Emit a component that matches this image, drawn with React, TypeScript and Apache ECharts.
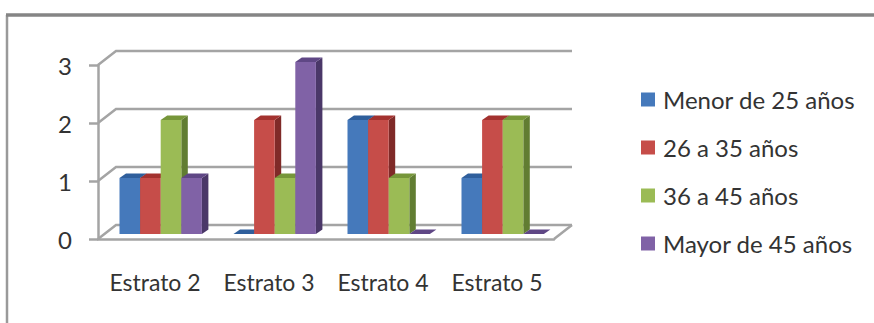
import { useEffect, useRef } from "react";
import * as echarts from "echarts";

const categories = ["Estrato 2", "Estrato 3", "Estrato 4", "Estrato 5"];
const yTicks = [0, 1, 2, 3];
const menor25 = [1, 0, 2, 1];
const de26a35 = [1, 2, 2, 2];
const de36a45 = [2, 1, 1, 2];
const mayor45 = [1, 3, 0, 0];

const seriesNames = ["Menor de 25 años", "26 a 35 años", "36 a 45 años", "Mayor de 45 años"];
const seriesValues = [menor25, de26a35, de36a45, mayor45];
// front, top and side face colours of each bar series
const palette = [
  ["#4579bb", "#2f5f9c", "#2b4f80"],
  ["#c64d49", "#a3322f", "#7f2a28"],
  ["#9bbb55", "#76963a", "#617d32"],
  ["#8062a6", "#5f4785", "#4a3768"],
];

const FONT = "Lato";
const GRID_COLOR = "#a4a4a4";
// Oblique depth of the plot floor and of each bar
const WALL_DX = 18;
const WALL_DY = -14;
const BAR_DX = 6.5;
const BAR_DY = -4.5;
const BAR_W = 20.6;
const FLOOR_SHIFT_X = 21.5;
const FLOOR_SHIFT_Y = -5;

function renderWalls(params: any, api: any) {
  const [x0, y] = api.coord([0, api.value(0)]);
  const cat = api.size([1, 0])[0];
  const left = x0 - cat / 2;
  const right = left + cat * categories.length;
  const lineStyle = { stroke: GRID_COLOR, lineWidth: 2.5, fill: "none" };
  const children: any[] = [
    { type: "polyline", shape: { points: [[left, y], [left + WALL_DX, y + WALL_DY], [right + WALL_DX, y + WALL_DY]] }, style: lineStyle },
  ];
  if (api.value(0) === 0) {
    children.push({ type: "line", shape: { x1: right, y1: y, x2: right + WALL_DX, y2: y + WALL_DY }, style: lineStyle });
  }
  return { type: "group", children };
}

function makeBarRenderer(seriesIndex: number) {
  const [front, top, side] = palette[seriesIndex];
  return (params: any, api: any) => {
    const [cx, yTop0] = api.coord([api.value(0), api.value(1)]);
    const [, yBase0] = api.coord([api.value(0), 0]);
    const cat = api.size([1, 0])[0];
    const x = cx - cat / 2 + FLOOR_SHIFT_X + seriesIndex * BAR_W;
    const yBase = yBase0 + FLOOR_SHIFT_Y;
    const yTop = yTop0 + FLOOR_SHIFT_Y + (api.value(1) > 0 ? 2 : 0);
    const r = x + BAR_W;
    return {
      type: "group",
      children: [
        { type: "polygon", shape: { points: [[r, yTop], [r + BAR_DX, yTop + BAR_DY], [r + BAR_DX, yBase + BAR_DY], [r, yBase]] }, style: { fill: side } },
        { type: "polygon", shape: { points: [[x, yTop], [x + BAR_DX, yTop + BAR_DY], [r + BAR_DX, yTop + BAR_DY], [r, yTop]] }, style: { fill: top } },
        { type: "rect", shape: { x, y: yTop, width: BAR_W, height: yBase - yTop }, style: { fill: front } },
      ],
    };
  };
}

export default function App() {
  const ref = useRef<HTMLDivElement>(null);
  useEffect(() => {
    const chart = echarts.init(ref.current!, null, { renderer: "svg" });
    chart.setOption({
      animation: false,
      backgroundColor: "#ffffff",
      textStyle: { fontFamily: FONT },
      graphic: [
        {
          type: "line",
          silent: true,
          shape: { x1: 7, y1: 15, x2: 7, y2: 323 },
          style: { stroke: "#9a9a9a", lineWidth: 2.5 },
        },
        {
          type: "line",
          silent: true,
          shape: { x1: 6, y1: 15, x2: 874, y2: 15 },
          style: { stroke: "#858585", lineWidth: 3.5 },
        },
      ],
      legend: {
        left: 641,
        top: 85.5,
        padding: 0,
        orient: "vertical",
        icon: "rect",
        itemWidth: 14,
        itemHeight: 14,
        itemGap: 20,
        data: seriesNames,
        textStyle: { fontFamily: FONT, fontSize: 24, color: "#333333", padding: [0, 0, 0, 3], lineHeight: 28 },
      },
      grid: { left: 98, right: 320, top: 65, bottom: 84 },
      xAxis: {
        type: "category",
        data: categories,
        boundaryGap: true,
        axisLine: { lineStyle: { color: GRID_COLOR, width: 2.5 } },
        axisTick: { alignWithLabel: false, length: 8, lineStyle: { color: GRID_COLOR, width: 2.5 } },
        axisLabel: { interval: 0, fontFamily: FONT, fontSize: 23, color: "#333333", margin: 31 },
      },
      yAxis: {
        type: "value",
        min: 0,
        max: 3,
        interval: 1,
        axisLine: { show: true, lineStyle: { color: GRID_COLOR, width: 2.5 } },
        axisTick: { show: true, length: 9, lineStyle: { color: GRID_COLOR, width: 2.5 } },
        splitLine: { show: false },
        axisLabel: { fontFamily: FONT, fontSize: 24, color: "#333333", margin: 26 },
      },
      series: [
        {
          type: "custom",
          name: "walls",
          silent: true,
          z: 1,
          renderItem: renderWalls,
          data: yTicks.map((v) => [v]),
          encode: { y: 0 },
        },
        ...seriesNames.map((name, s) => ({
          type: "custom",
          name,
          z: 2 + s,
          itemStyle: { color: palette[s][0] },
          renderItem: makeBarRenderer(s),
          data: seriesValues[s].map((v, i) => [i, v]),
          encode: { x: 0, y: 1 },
        })),
      ],
    });
    return () => chart.dispose();
  }, []);
  return <div ref={ref} style={{ width: 874, height: 323, position: "fixed", left: 0, top: 0 }} />;
}
